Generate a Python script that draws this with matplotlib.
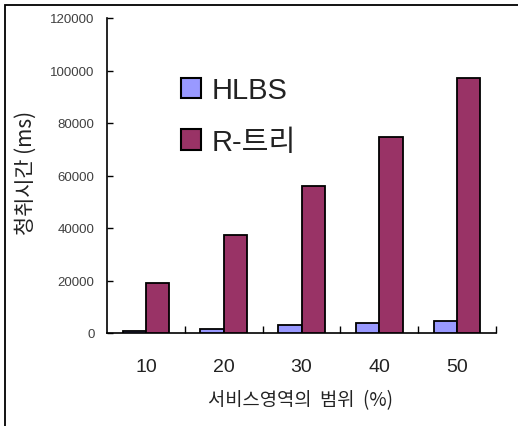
import numpy as np
import matplotlib
matplotlib.use("Agg")
import matplotlib.pyplot as plt
from matplotlib.patches import Rectangle

# ============================================
# Datos
# ============================================
categorias = ["10", "20", "30", "40", "50"]
hlbs = [700, 1500, 3000, 3800, 4600]
rtree = [19000, 37400, 55900, 74800, 97000]
yticks = [0, 20000, 40000, 60000, 80000, 100000, 120000]

FONT = ["Liberation Sans", "Noto Sans CJK KR", "DejaVu Sans"]
KFONT = ["Noto Sans CJK KR", "DejaVu Sans"]
plt.rcParams["font.family"] = FONT

W, H = 518, 427
fig = plt.figure(figsize=(W / 100, H / 100), dpi=100)
ax = fig.add_axes([107 / W, 1 - 334 / H, 389 / W, 315 / H])

x = np.arange(len(categorias))
w = 0.3
ax.bar(x - w / 2, hlbs, w, color="#9999FF", edgecolor="black", linewidth=1.3,
       label="HLBS", zorder=3)
ax.bar(x + w / 2, rtree, w, color="#993366", edgecolor="black", linewidth=1.3,
       label="R-트리", zorder=3)

ax.set_xlim(-0.5, len(categorias) - 0.5)
ax.set_ylim(0, 120000)

# ejes
for s in ["top", "right"]:
    ax.spines[s].set_visible(False)
for s in ["left", "bottom"]:
    ax.spines[s].set_linewidth(1.2)

ax.set_yticks(yticks)
ax.set_yticklabels([str(v) for v in yticks], fontsize=9.5, color="#404040")
ax.tick_params(axis="y", direction="in", length=4, width=1, pad=9)

ax.set_xticks(x)
ax.set_xticklabels(categorias, fontsize=14, color="#222222")
ax.set_xticks(list(x + 0.5), minor=True)
ax.tick_params(axis="x", which="major", length=0, pad=18)
ax.tick_params(axis="x", which="minor", direction="in", length=5, width=1)

# títulos de ejes colocados a mano
fig.text(301 / W, 1 - 401 / H, "서비스영역의  범위  (%)", fontsize=13.5,
         family=KFONT, ha="center", va="center", color="#222222")
fig.text(26 / W, 1 - 173 / H, "청취시간 (ms)", fontsize=15, family=KFONT,
         rotation=90, ha="center", va="center", color="#222222")

leg = ax.legend(loc="upper left", bbox_to_anchor=(0.19, 0.815), frameon=False,
                fontsize=21, handlelength=0.7, handleheight=0.7,
                handletextpad=0.35, labelspacing=0.8, borderpad=0,
                borderaxespad=0)
for t in leg.get_texts():
    t.set_color("#222222")
for h in leg.legend_handles:
    h.set_linewidth(1.5)

# marco de la figura
fig.patches.append(Rectangle((5 / W, -0.1), 1.2, 1 - 6 / H + 0.1,
                             transform=fig.transFigure, fill=False,
                             edgecolor="black", linewidth=1.3))

fig.savefig("out.png", dpi=100)
